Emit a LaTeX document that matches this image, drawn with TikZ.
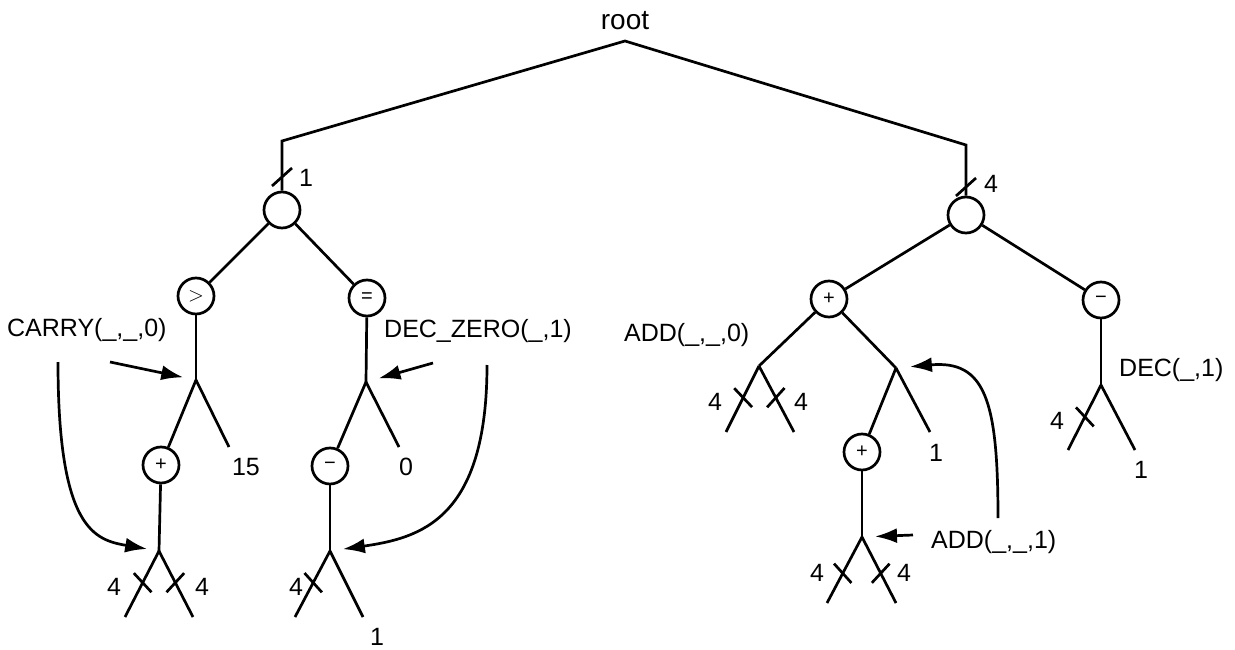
\documentclass[tikz,border=0pt]{standalone}
\usepackage{fontspec}
\setmainfont{Liberation Sans}
\usetikzlibrary{arrows.meta,calc}
% #1 joint, #2 leaf end, #3 position, #4/#5 stroke angles
\newcommand{\brcross}[5]{%
  \coordinate (tmpc) at ($(#1)!#3!(#2)$);
  \draw[edge] ($(tmpc)!13pt!#4:(#2)$) -- ($(tmpc)!13pt!#5:(#2)$);
}
\newcommand{\vslash}[1]{%
  \draw[edge] ($(#1)+(-10,9)$) -- ($(#1)+(10,-9)$);
}
\tikzset{
  edge/.style={line width=2.7pt, line cap=butt},
  opnode/.style={circle, draw, line width=2.7pt, minimum size=36pt, inner sep=0pt,
    font=\fontsize{20}{20}\selectfont},
  lbl/.style={font=\fontsize{25}{29}\selectfont, inner sep=0pt},
  arr/.style={line width=2.7pt, -{Latex[length=22pt,width=15pt]}},
}
\begin{document}
\begin{tikzpicture}[x=1pt,y=-1pt]
\useasboundingbox[fill=white] (0,0) rectangle (1235,650);

% root
\node[lbl, font=\fontsize{28}{32}\selectfont] (root) at (625,21) {root};
\coordinate (apex) at (625,41);
\coordinate (cornL) at (282,141);
\coordinate (cornR) at (966,145);

% left subtree nodes
\node[opnode] (cL) at (282,210) {};
\node[opnode] (gt) at (196,296) {$>$};
\node[opnode] (eq) at (367,298) {=};
\coordinate (j1) at (196,380);
\node[opnode] (pl1) at (161,465) {+};
\coordinate (e15) at (229,447);
\node[lbl] (t15) at (246,467) {15};
\coordinate (j2) at (159,551);
\coordinate (a1) at (125,617);
\coordinate (a2) at (193,617);
\node[lbl] (f1) at (114,587) {4};
\node[lbl] (f2) at (202,587) {4};

\coordinate (j3) at (366,382);
\node[opnode] (mi1) at (330,466) {\textminus};
\coordinate (e0) at (399,447);
\node[lbl] (t0) at (406,467) {0};
\coordinate (j4) at (330,551);
\coordinate (b1) at (295,617);
\coordinate (b2) at (363,617);
\node[lbl] (f3) at (296,587) {4};
\node[lbl] (t1a) at (377,637) {1};

% right subtree nodes
\node[opnode] (cR) at (966,215) {};
\node[opnode] (pl2) at (829,299) {+};
\node[opnode] (mi2) at (1101,300) {\textminus};
\coordinate (j5) at (759,366);
\coordinate (c1) at (726,432);
\coordinate (c2) at (794,432);
\node[lbl] (f4) at (715,402) {4};
\node[lbl] (f5) at (801,402) {4};
\coordinate (j6) at (896,368);
\node[opnode] (pl3) at (862,452) {+};
\coordinate (e1b) at (930,432);
\node[lbl] (t1b) at (936,453) {1};
\coordinate (j7) at (862,537);
\coordinate (d1) at (827,603);
\coordinate (d2) at (896,603);
\node[lbl] (f6) at (817,573) {4};
\node[lbl] (f7) at (904,573) {4};
\coordinate (j8) at (1101,385);
\coordinate (g1) at (1068,450);
\coordinate (g2) at (1135,450);
\node[lbl] (f8) at (1057,421) {4};
\node[lbl] (t1c) at (1141,470) {1};

% tree edges
\draw[edge, line join=miter] (cL) -- (cornL) -- (apex) -- (cornR) -- (cR);
\coordinate (sl1) at (282,177);
\coordinate (sl2) at (966,187);
\vslash{sl1}
\vslash{sl2}
\node[lbl] (n1) at (306,178) {1};
\node[lbl] (n4) at (991,184) {4};

\draw[edge] (cL) -- (gt);
\draw[edge] (cL) -- (eq);
\draw[edge] (gt) -- (j1);
\draw[edge] (j1) -- (pl1);
\draw[edge] (j1) -- (e15);
\draw[edge] (pl1) -- (j2);
\draw[edge] (j2) -- (a1);
\draw[edge] (j2) -- (a2);
\brcross{j2}{a1}{0.48}{70}{-110}
\brcross{j2}{a2}{0.48}{-70}{110}

\draw[edge] (eq) -- (j3);
\draw[edge] (j3) -- (mi1);
\draw[edge] (j3) -- (e0);
\draw[edge] (mi1) -- (j4);
\draw[edge] (j4) -- (b1);
\draw[edge] (j4) -- (b2);
\brcross{j4}{b1}{0.48}{70}{-110}

\draw[edge] (cR) -- (pl2);
\draw[edge] (cR) -- (mi2);
\draw[edge] (pl2) -- (j5);
\draw[edge] (pl2) -- (j6);
\draw[edge] (j5) -- (c1);
\draw[edge] (j5) -- (c2);
\brcross{j5}{c1}{0.48}{70}{-110}
\brcross{j5}{c2}{0.48}{-70}{110}
\draw[edge] (j6) -- (pl3);
\draw[edge] (j6) -- (e1b);
\draw[edge] (pl3) -- (j7);
\draw[edge] (j7) -- (d1);
\draw[edge] (j7) -- (d2);
\brcross{j7}{d1}{0.55}{70}{-110}
\brcross{j7}{d2}{0.55}{-70}{110}
\draw[edge] (mi2) -- (j8);
\draw[edge] (j8) -- (g1);
\draw[edge] (j8) -- (g2);
\brcross{j8}{g1}{0.49}{70}{-110}

% annotation labels
\node[lbl, anchor=west] (carry) at (7,330) {CARRY(\_,\_,0)};
\node[lbl, anchor=west] (deczero) at (384,331) {DEC\_ZERO(\_,1)};
\node[lbl, anchor=west] (add0) at (624,335) {ADD(\_,\_,0)};
\node[lbl, anchor=west] (add1) at (931,542) {ADD(\_,\_,1)};
\node[lbl, anchor=west] (dec) at (1119,370) {DEC(\_,1)};

% arrows
\coordinate (ca1) at (110,362);
\coordinate (ca2) at (58,362);
\coordinate (dz1) at (433,363);
\coordinate (dz2) at (487,365);
\coordinate (ad1) at (913,535);
\coordinate (ad2) at (998,518);
\draw[arr, shorten >=13pt] (ca1) -- (j1);
\draw[arr, shorten >=12pt] (ca2) .. controls (58,530) and (95,540) .. (j2);
\draw[arr, shorten >=13pt] (dz1) -- (j3);
\draw[arr, shorten >=13pt] (dz2) .. controls (487,520) and (420,538) .. (j4);
\draw[arr, shorten >=13pt] (ad1) -- (j7);
\draw[arr, shorten >=14pt] (ad2) .. controls (998,400) and (985,360) .. (j6);
\end{tikzpicture}
\end{document}
